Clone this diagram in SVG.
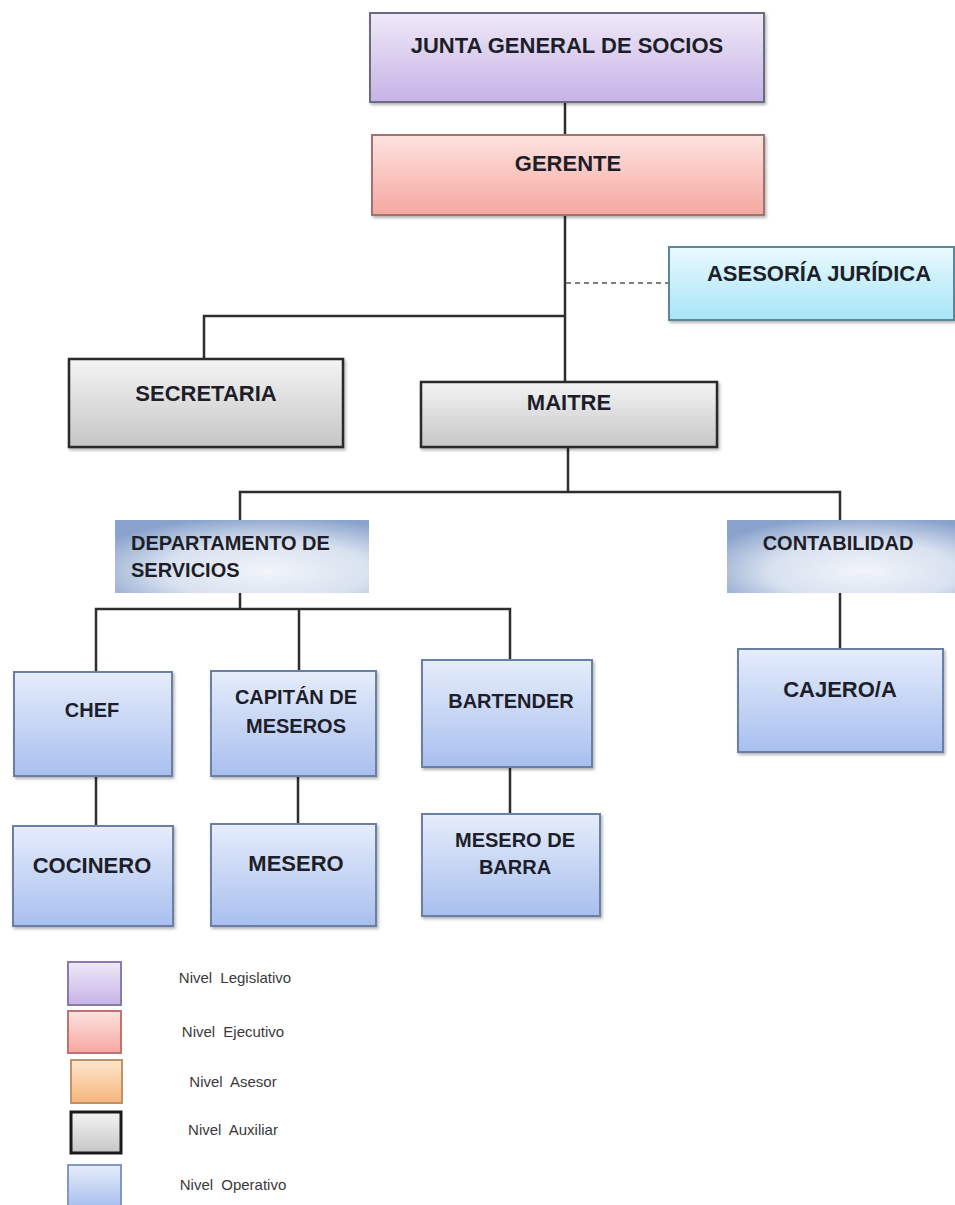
<svg xmlns="http://www.w3.org/2000/svg" width="955" height="1205" viewBox="0 0 955 1205">
<defs>
<linearGradient id="gLeg" x1="0" y1="0" x2="0" y2="1"><stop offset="0" stop-color="#efe9f7"/><stop offset="1" stop-color="#c6b3e6"/></linearGradient>
<linearGradient id="gEje" x1="0" y1="0" x2="0" y2="1"><stop offset="0" stop-color="#fde3df"/><stop offset="1" stop-color="#f6a7a1"/></linearGradient>
<linearGradient id="gAse" x1="0" y1="0" x2="0" y2="1"><stop offset="0" stop-color="#eafafe"/><stop offset="1" stop-color="#a6e5f6"/></linearGradient>
<linearGradient id="gOra" x1="0" y1="0" x2="0" y2="1"><stop offset="0" stop-color="#fde6cc"/><stop offset="1" stop-color="#f6b57c"/></linearGradient>
<linearGradient id="gAux" x1="0" y1="0" x2="0" y2="1"><stop offset="0" stop-color="#f4f4f4"/><stop offset="1" stop-color="#c6c6c6"/></linearGradient>
<linearGradient id="gOpe" x1="0" y1="0" x2="0" y2="1"><stop offset="0" stop-color="#e6edfb"/><stop offset="1" stop-color="#a8bfee"/></linearGradient>
<radialGradient id="gBev" cx="0.6" cy="0.7" r="0.75"><stop offset="0" stop-color="#f2f5fa"/><stop offset="0.55" stop-color="#d8e1ef"/><stop offset="1" stop-color="#8aa3cc"/></radialGradient>
<filter id="sh" x="-5%" y="-5%" width="115%" height="120%"><feDropShadow dx="1.5" dy="2" stdDeviation="1.5" flood-color="#000" flood-opacity="0.3"/></filter>
<style>
.t{font-family:"Liberation Sans",Arial,sans-serif;font-weight:bold;fill:#1e1e2a;text-anchor:middle}
.t22{font-size:22px}
.t20{font-size:20px}
.lg{font-family:"Liberation Sans",Arial,sans-serif;font-size:15px;fill:#3a3a3a;text-anchor:middle;word-spacing:4px}
.con{fill:none;stroke:#2e2e2e;stroke-width:2.5}
.dash{fill:none;stroke:#555;stroke-width:1.5;stroke-dasharray:5 4}
.ope{fill:url(#gOpe);stroke:#6b7fa6;stroke-width:2}
.aux{fill:url(#gAux);stroke:#2a2a2a;stroke-width:2.5}
</style>
</defs>
<rect width="955" height="1205" fill="#ffffff"/>

<g id="connectors">
<path class="con" d="M565,102 V135"/>
<path class="con" d="M565,215 V382"/>
<path class="con" d="M565,316 H204 V359"/>
<path class="dash" d="M566,283 H669"/>
<path class="con" d="M568,447 V492"/>
<path class="con" d="M240,520 V492 H840 V520"/>
<path class="con" d="M240,593 V609"/>
<path class="con" d="M96,672 V609 H510 V660"/>
<path class="con" d="M299,609 V671"/>
<path class="con" d="M96,776 V826"/>
<path class="con" d="M298,776 V824"/>
<path class="con" d="M510,767 V814"/>
<path class="con" d="M840,593 V649"/>
</g>

<g id="junta"><rect x="370" y="13" width="394" height="89" fill="url(#gLeg)" stroke="#6c6a80" stroke-width="2" filter="url(#sh)"/><text class="t t22" x="567" y="53">JUNTA GENERAL DE SOCIOS</text></g>
<g id="gerente"><rect x="372" y="135" width="392" height="80" fill="url(#gEje)" stroke="#9c7470" stroke-width="2" filter="url(#sh)"/><text class="t t22" x="568" y="171">GERENTE</text></g>
<g id="asesoria"><rect x="669" y="247" width="285" height="73" fill="url(#gAse)" stroke="#5d8796" stroke-width="2" filter="url(#sh)"/><text class="t t22" x="819" y="281">ASESORÍA JURÍDICA</text></g>
<g id="secretaria"><rect x="69" y="359" width="274" height="88" class="aux" filter="url(#sh)"/><text class="t t22" x="206" y="401">SECRETARIA</text></g>
<g id="maitre"><rect x="421" y="382" width="296" height="65" class="aux" filter="url(#sh)"/><text class="t t22" x="569" y="410">MAITRE</text></g>
<g id="departamento"><rect x="115" y="520" width="254" height="73" fill="url(#gBev)"/><text class="t t20" x="131" y="550" style="text-anchor:start">DEPARTAMENTO DE</text><text class="t t20" x="131" y="577" style="text-anchor:start">SERVICIOS</text></g>
<g id="contabilidad"><rect x="727" y="520" width="228" height="73" fill="url(#gBev)"/><text class="t t20" x="838" y="550">CONTABILIDAD</text></g>
<g id="chef"><rect x="14" y="672" width="158" height="104" class="ope" filter="url(#sh)"/><text class="t t20" x="92" y="717">CHEF</text></g>
<g id="capitan"><rect x="211" y="671" width="165" height="105" class="ope" filter="url(#sh)"/><text class="t t20" x="296" y="704">CAPITÁN DE</text><text class="t t20" x="296" y="733">MESEROS</text></g>
<g id="bartender"><rect x="422" y="660" width="170" height="107" class="ope" filter="url(#sh)"/><text class="t t20" x="511" y="708">BARTENDER</text></g>
<g id="cajero"><rect x="738" y="649" width="205" height="103" class="ope" filter="url(#sh)"/><text class="t t22" x="840" y="697">CAJERO/A</text></g>
<g id="cocinero"><rect x="13" y="826" width="160" height="100" class="ope" filter="url(#sh)"/><text class="t t22" x="92" y="873">COCINERO</text></g>
<g id="mesero"><rect x="211" y="824" width="165" height="102" class="ope" filter="url(#sh)"/><text class="t t22" x="296" y="871">MESERO</text></g>
<g id="mesero-barra"><rect x="422" y="814" width="178" height="102" class="ope" filter="url(#sh)"/><text class="t t20" x="515" y="847">MESERO DE</text><text class="t t20" x="515" y="874">BARRA</text></g>

<g id="legend">
<rect x="68" y="962" width="53" height="43" fill="url(#gLeg)" stroke="#8a78b0" stroke-width="2"/>
<text class="lg" x="235" y="983">Nivel Legislativo</text>
<rect x="68" y="1011" width="53" height="42" fill="url(#gEje)" stroke="#c07272" stroke-width="2"/>
<text class="lg" x="233" y="1037">Nivel Ejecutivo</text>
<rect x="71" y="1060" width="51" height="43" fill="url(#gOra)" stroke="#c0946a" stroke-width="2"/>
<text class="lg" x="233" y="1087">Nivel Asesor</text>
<rect x="71" y="1112" width="50" height="41" fill="url(#gAux)" stroke="#1a1a1a" stroke-width="3"/>
<text class="lg" x="233" y="1135">Nivel Auxiliar</text>
<rect x="68" y="1165" width="53" height="42" fill="url(#gOpe)" stroke="#8197c4" stroke-width="2"/>
<text class="lg" x="233" y="1190">Nivel Operativo</text>
</g>
</svg>
